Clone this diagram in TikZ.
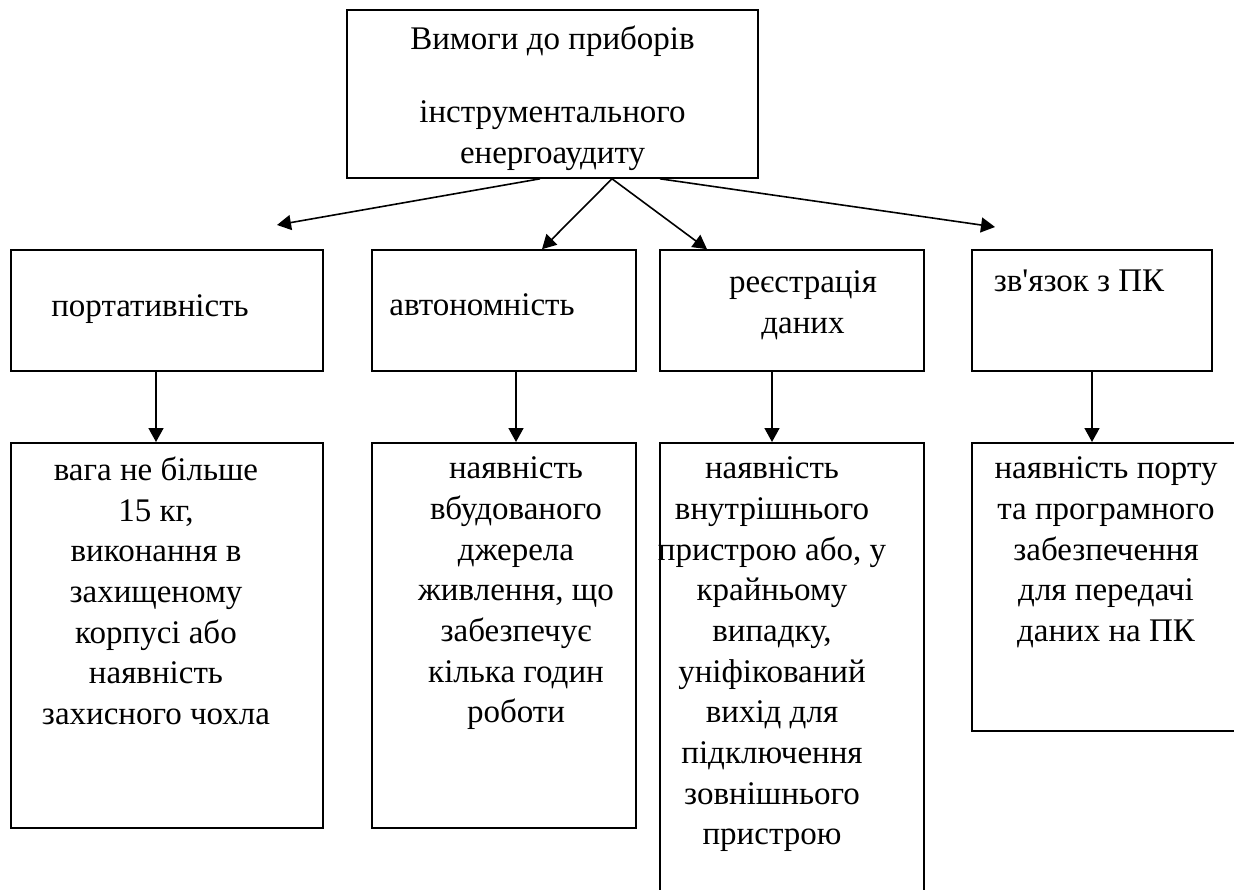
\documentclass[tikz,border=0pt]{standalone}
\usepackage{fontspec}
\setmainfont{Liberation Serif}[Ligatures=TeXOff]
\usepackage{tikz}
\usetikzlibrary{arrows.meta, positioning}
\tikzstyle{req}=[draw, shape=rectangle, line width=0.8pt, inner sep=0pt]
\tikzstyle{txt}=[font=\fontsize{16.5}{20.35}\selectfont, align=center, inner sep=0pt]
\tikzset{>={Triangle[length=7pt, width=7.5pt]}}

\begin{document}
\begin{tikzpicture}[x=0.5pt, y=-0.5pt, line width=0.8pt]
\useasboundingbox (0,0) rectangle (1234,889);
\clip (0,0) rectangle (1234,889);
% the top box
\node[req, minimum width=205.5pt, minimum height=84pt, label={[txt, yshift=-2.2pt]center:{Вимоги до приборів\\[16pt]інструментального\\енергоаудиту}}] (T) at (552.5,94) {};
% the four requirements
\node[req, minimum width=156pt, minimum height=60.5pt, label={[txt, xshift=-8.5pt, yshift=0.75pt]center:портативність}] (P1) at (167,310.5) {};
\node[req, minimum width=132pt, minimum height=60.5pt, label={[txt, xshift=-11pt, yshift=2.75pt]center:автономність}] (P2) at (504,310.5) {};
\node[req, minimum width=132pt, minimum height=60.5pt, label={[txt, xshift=5.5pt, yshift=2.75pt]center:{реєстрація\\даних}}] (P3) at (792,310.5) {};
\node[req, minimum width=120pt, minimum height=60.5pt, label={[txt, xshift=-6.5pt, yshift=14.75pt]center:{зв'язок з ПК}}] (P4) at (1092,310.5) {};
% the details below them
\node[req, anchor=north, minimum width=156pt, minimum height=192.5pt, label={[txt, anchor=north, xshift=-5.5pt, yshift=-7pt]north:{вага не більше\\15 кг,\\виконання в\\захищеному\\корпусі або\\наявність\\захисного чохла}}] (D1) at (167,442) {};
\node[req, anchor=north, minimum width=132pt, minimum height=192.5pt, label={[txt, anchor=north, xshift=6pt, yshift=-7pt]north:{наявність\\вбудованого\\джерела\\живлення, що\\забезпечує\\кілька годин\\роботи}}] (D2) at (504,442) {};
\node[req, anchor=north, minimum width=132pt, minimum height=259pt, label={[txt, anchor=north, xshift=-10pt, yshift=-7pt]north:{наявність\\внутрішнього\\пристрою або, у\\крайньому\\випадку,\\уніфікований\\вихід для\\підключення\\зовнішнього\\пристрою}}] (D3) at (792,442) {};
\node[req, anchor=north, minimum width=164pt, minimum height=144pt, label={[txt, anchor=north, xshift=-15pt, yshift=-7pt]north:{наявність порту\\та програмного\\забезпечення\\для передачі\\даних на ПК}}] (D4) at (1136,442) {};
%
% the arrows from the top box
\coordinate (L) at (277,225);
\coordinate (R) at (995,227);
\draw[->] ([xshift=-6.25pt]T.south) -- (L);
\draw[->] ([xshift=29.75pt]T.south) -- ([xshift=19pt]P2.north);
\draw[->] ([xshift=29.75pt]T.south) -- ([xshift=-42.5pt]P3.north);
\draw[->] ([xshift=53.75pt]T.south) -- (R);
% the arrows down
\draw[->] ([xshift=-5.5pt]P1.south) -- ([xshift=-5.5pt]D1.north);
\draw[->] ([xshift=6pt]P2.south) -- ([xshift=6pt]D2.north);
\draw[->] ([xshift=-10pt]P3.south) -- ([xshift=-10pt]D3.north);
\draw[->] (P4.south) -- ([xshift=-22pt]D4.north);
\end{tikzpicture}
\end{document}
